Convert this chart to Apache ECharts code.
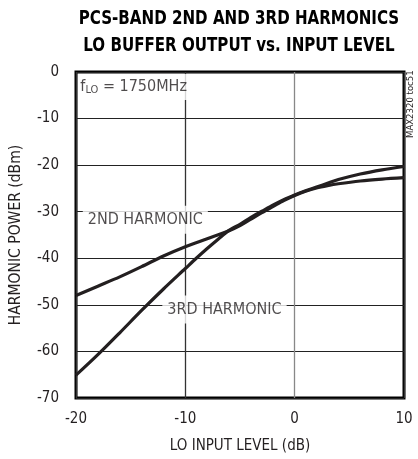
<!DOCTYPE html>
<html>
<head>
<meta charset="utf-8">
<script src="https://cdn.jsdelivr.net/npm/echarts@6/dist/echarts.min.js"></script>
<style>
html,body{margin:0;padding:0;background:#fff;}
#c{width:418px;height:459px;}
</style>
</head>
<body>
<div id="c"></div>
<script>
// ---- data ----
const xTicks = [-20, -10, 0, 10];
const yTicks = [0, -10, -20, -30, -40, -50, -60, -70];
const inputLevel2 = [-20, -18, -16, -14, -12, -10, -8, -6, -5, -4, -3, -2, -1, 0, 1, 2, 3, 4, 6, 8, 10];
const harmonic2 = [-48.0, -46.0, -44.0, -41.8, -39.5, -37.5, -35.8, -34.1, -33.0, -31.6, -30.2, -28.9, -27.6, -26.5, -25.6, -24.9, -24.4, -24.0, -23.4, -23.0, -22.7];
const inputLevel3 = [-20, -18, -16, -14, -12, -10, -9, -8, -7, -6, -5, -4, -3, -2, -1, 0, 1, 2, 3, 4, 6, 8, 10];
const harmonic3 = [-65.1, -60.7, -56.0, -51.2, -46.6, -42.2, -40.0, -37.9, -35.9, -34.0, -32.7, -31.2, -29.9, -28.6, -27.4, -26.4, -25.5, -24.7, -23.9, -23.1, -21.9, -21.0, -20.3];
const labelTexts = ['{a|f}{b|LO}{a| = 1750MHz}', '2ND HARMONIC', '3RD HARMONIC'];
const labelX = [-19.6, -13.66, -6.42];
const labelY = [-3.2, -31.7, -51.0];
const titleText = 'PCS-BAND 2ND AND 3RD HARMONICS\nLO BUFFER OUTPUT vs. INPUT LEVEL';
const xName = 'LO INPUT LEVEL (dB)';
const yName = 'HARMONIC POWER (dBm)';
const noteText = 'MAX2320 toc51';

const FONT = '"DejaVu Sans Condensed", "Liberation Sans Narrow", sans-serif';
const TXT = '#231f20';

const zip = (xs, ys) => xs.map((x, i) => [x, ys[i]]);

const chart = echarts.init(document.getElementById('c'), null, {renderer: 'canvas'});

const lineStyle = {color: '#231f20', width: 3.2};

chart.setOption({
  animation: false,
  backgroundColor: '#fff',
  textStyle: {fontFamily: FONT},
  grid: {left: 75, right: 14, top: 72, bottom: 58, show: true, borderColor: '#000', borderWidth: 3, backgroundColor: 'transparent'},
  xAxis: {
    type: 'value', min: xTicks[0], max: xTicks[xTicks.length - 1], interval: 10,
    axisLine: {show: false}, axisTick: {show: false},
    axisLabel: {fontFamily: FONT, fontSize: 15, color: TXT, margin: 14},
    splitLine: {show: true, lineStyle: {color: ['#333', '#333', '#888', '#333'], width: 1.3}},
    name: xName, nameLocation: 'middle', nameGap: 41,
    nameTextStyle: {fontFamily: FONT, fontSize: 15, color: TXT}
  },
  yAxis: {
    type: 'value', min: yTicks[yTicks.length - 1], max: yTicks[0], interval: 10,
    axisLine: {show: false}, axisTick: {show: false},
    axisLabel: {fontFamily: FONT, fontSize: 15, color: TXT, margin: 17},
    splitLine: {show: true, lineStyle: {color: '#222', width: 1}},
    name: yName, nameLocation: 'middle', nameGap: 52,
    nameTextStyle: {fontFamily: FONT, fontSize: 15.5, color: TXT}
  },
  series: [
    {type: 'line', data: zip(inputLevel2, harmonic2), smooth: 0.3, showSymbol: false, lineStyle: lineStyle, z: 3},
    {type: 'line', data: zip(inputLevel3, harmonic3), smooth: 0.3, showSymbol: false, lineStyle: lineStyle, z: 3},
    {
      type: 'scatter', symbolSize: 0, z: 5, silent: true,
      data: labelTexts.map((t, i) => ({
        value: [labelX[i], labelY[i]],
        label: i === 0 ? {
          show: true, position: 'inside', align: 'left', verticalAlign: 'middle',
          formatter: t, backgroundColor: '#fff', padding: [4, 4, 4, 0],
          rich: {
            a: {fontFamily: FONT, fontSize: 16, color: TXT},
            b: {fontFamily: FONT, fontSize: 11, color: TXT, verticalAlign: 'bottom', padding: [7, 0, 0, 0]}
          }
        } : {
          show: true, position: 'inside', align: 'center', verticalAlign: 'middle',
          formatter: t, backgroundColor: '#fff', padding: [6, 5, 6, 5],
          fontFamily: FONT, fontSize: 16, color: TXT
        }
      }))
    }
  ],
  graphic: [
    {type: 'text', x: 239, y: 5, scaleY: 1.12, style: {text: titleText, textAlign: 'center', fontFamily: FONT, fontWeight: 'bold', fontSize: 16.8, lineHeight: 24.5, fill: '#000'}},
    {type: 'text', x: 406, y: 138, rotation: Math.PI / 2, style: {text: noteText, fontFamily: FONT, fontSize: 9.5, fill: TXT, textAlign: 'left', textVerticalAlign: 'top'}}
  ]
});
</script>
</body>
</html>
